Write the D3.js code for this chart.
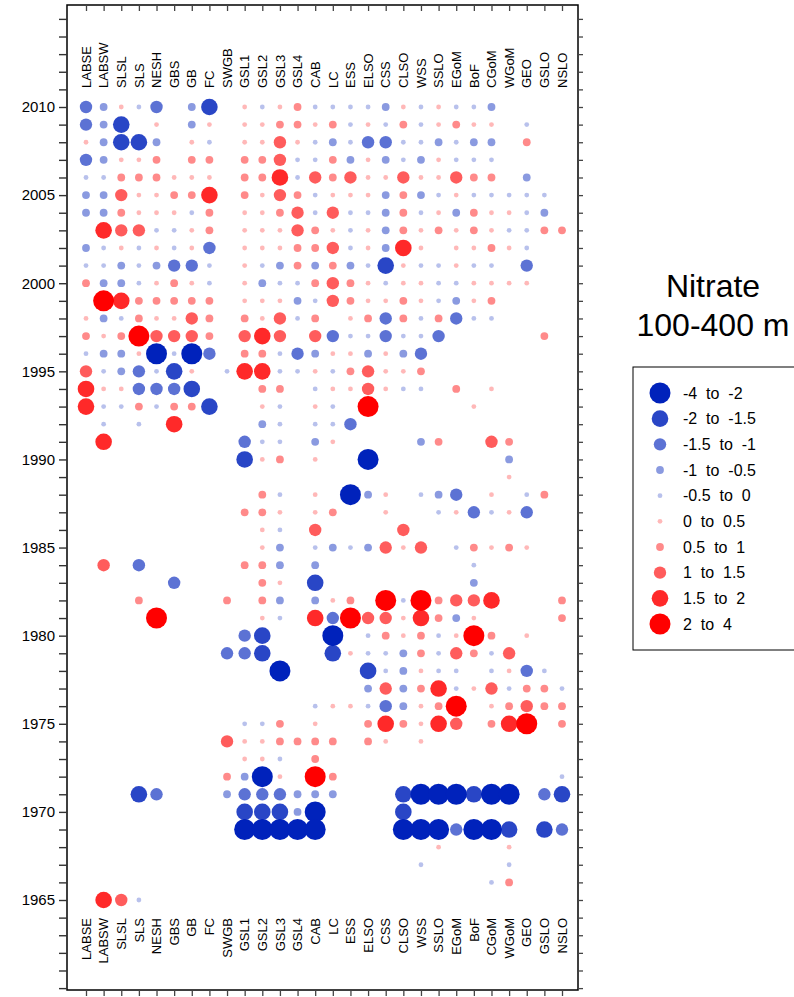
<!DOCTYPE html>
<html><head><meta charset="utf-8">
<script src="https://cdn.jsdelivr.net/npm/d3@7"></script>
<style>body{margin:0;background:#fff} text{font-family:Arial,"Liberation Sans",sans-serif;fill:#000}</style></head>
<body><svg id="c" width="794" height="997"></svg>
<script>
const regions=["LABSE","LABSW","SLSL","SLS","NESH","GBS","GB","FC","SWGB","GSL1","GSL2","GSL3","GSL4","CAB","LC","ESS","ELSO","CSS","CLSO","WSS","SSLO","EGoM","BoF","CGoM","WGoM","GEO","GSLO","NSLO"];
const yearTicks=[1965,1970,1975,1980,1985,1990,1995,2000,2005,2010];
const classBreaks=[-2,-1.5,-1,-0.5,0,0.5,1,1.5,2];
const classLabels=["-4  to  -2","-2  to  -1.5","-1.5  to  -1","-1  to  -0.5","-0.5  to  0","0  to  0.5","0.5  to  1","1  to  1.5","1.5  to  2","2  to  4"];
const classSamples=[-3,-1.75,-1.25,-0.75,-0.25,0.25,0.75,1.25,1.75,3];

const LABSE=[[2010,-1.25],[2009,-1.25],[2008,0.25],[2007,-1.25],[2006,-0.25],[2005,-0.75],[2004,-0.75],[2002,-0.75],[2001,-0.25],[2000,0.75],[1998,0.25],[1997,0.75],[1996,-0.25],[1995,1.25],[1994,1.75],[1993,1.75]];
const LABSW=[[2010,-0.75],[2009,-0.75],[2008,-0.75],[2007,-0.75],[2006,-0.25],[2005,-0.75],[2004,-0.75],[2003,1.75],[2002,-0.25],[2001,-0.25],[2000,-0.75],[1999,3],[1998,-0.75],[1997,0.25],[1996,-0.75],[1995,-0.25],[1994,0.25],[1993,-0.25],[1992,-0.25],[1991,1.75],[1984,1.25],[1965,1.75]];
const SLSL=[[2010,0.25],[2009,-1.75],[2008,-1.75],[2007,0.25],[2006,0.75],[2005,1.25],[2004,0.75],[2003,1.25],[2002,0.25],[2001,-0.75],[2000,-0.75],[1999,1.75],[1998,-0.25],[1997,0.75],[1996,-0.75],[1995,-0.75],[1994,0.25],[1993,-0.25],[1965,1.25]];
const SLS=[[2010,-0.25],[2008,-1.75],[2007,0.25],[2006,0.75],[2005,0.25],[2004,0.25],[2003,1.25],[2002,-0.25],[2001,-0.25],[2000,-0.25],[1999,0.75],[1998,0.75],[1997,3],[1996,0.25],[1995,-1.25],[1994,-1.25],[1993,0.75],[1992,-0.25],[1984,-1.25],[1982,0.75],[1971,-1.75],[1965,-0.25]];
const NESH=[[2010,-1.25],[2009,0.25],[2008,-0.75],[2007,0.75],[2006,0.75],[2005,0.25],[2004,0.25],[2003,-0.25],[2002,0.25],[2001,-0.75],[2000,0.25],[1999,0.75],[1998,0.25],[1997,1.25],[1996,-3],[1995,-0.25],[1994,-1.25],[1993,-0.25],[1981,3],[1971,-1.25]];
const GBS=[[2006,0.25],[2005,0.75],[2004,0.25],[2003,-0.25],[2002,-0.25],[2001,-1.25],[2000,0.75],[1999,0.75],[1998,0.25],[1997,1.25],[1996,-0.25],[1995,-1.75],[1994,-1.25],[1993,0.75],[1992,1.75],[1983,-1.25]];
const GB=[[2010,-0.75],[2009,-0.75],[2008,0.25],[2007,0.75],[2006,0.25],[2005,0.75],[2004,-0.25],[2003,0.25],[2002,0.25],[2001,-1.25],[2000,0.25],[1999,0.75],[1998,1.25],[1997,1.25],[1996,-3],[1995,0.25],[1994,-1.75],[1993,0.75]];
const FC=[[2010,-1.75],[2009,0.25],[2008,-0.25],[2007,0.75],[2006,0.25],[2005,1.75],[2004,0.75],[2003,0.75],[2002,-1.25],[2001,-0.25],[2000,-0.25],[1999,0.75],[1998,0.75],[1997,0.75],[1996,-1.25],[1993,-1.75]];
const SWGB=[[1995,-0.25],[1982,0.75],[1979,-1.25],[1974,1.25],[1972,0.75],[1971,-0.75]];
const GSL1=[[2010,0.25],[2009,0.25],[2008,0.25],[2007,0.75],[2006,0.75],[2005,0.75],[2004,0.25],[2003,0.25],[2002,0.25],[2001,0.25],[2000,0.25],[1999,0.25],[1998,0.75],[1997,1.25],[1996,0.75],[1995,1.75],[1991,-1.25],[1990,-1.75],[1987,0.75],[1984,0.75],[1980,-1.25],[1979,-1.25],[1975,-0.25],[1974,0.25],[1973,0.25],[1972,-0.75],[1971,-1.25],[1970,-1.75],[1969,-3]];
const GSL2=[[2010,-0.25],[2009,0.25],[2008,0.25],[2007,0.75],[2006,0.75],[2005,0.25],[2004,0.25],[2003,0.25],[2002,0.25],[2001,-0.25],[2000,-0.75],[1999,0.25],[1998,0.25],[1997,1.75],[1996,0.75],[1995,1.75],[1994,0.75],[1993,0.25],[1992,-0.75],[1991,-0.25],[1990,0.25],[1988,0.75],[1987,0.75],[1986,0.25],[1985,0.25],[1984,0.75],[1983,0.75],[1982,0.75],[1981,0.25],[1980,-1.75],[1979,-1.75],[1975,-0.25],[1974,0.25],[1973,0.25],[1972,-3],[1971,-1.25],[1970,-1.75],[1969,-3]];
const GSL3=[[2010,0.25],[2009,0.75],[2008,1.25],[2007,1.25],[2006,1.75],[2005,1.25],[2004,0.75],[2003,0.25],[2002,0.25],[2001,-0.75],[2000,-0.25],[1999,0.25],[1998,1.25],[1997,1.25],[1996,-0.25],[1995,-0.25],[1994,0.75],[1993,-0.25],[1992,-0.25],[1991,-0.25],[1990,0.75],[1988,-0.25],[1987,0.25],[1986,-0.25],[1985,-0.75],[1984,-0.75],[1983,0.25],[1982,-0.75],[1981,-0.25],[1978,-3],[1975,0.75],[1974,0.75],[1973,-0.25],[1972,0.25],[1971,-1.25],[1970,-1.75],[1969,-3]];
const GSL4=[[2010,0.75],[2009,0.75],[2008,0.25],[2007,-0.25],[2006,-0.25],[2005,0.75],[2004,1.25],[2003,1.25],[2002,0.75],[2001,0.75],[2000,-0.25],[1999,-0.75],[1998,-0.25],[1996,-1.25],[1995,-0.25],[1974,0.75],[1971,-0.75],[1970,-0.75],[1969,-3]];
const CAB=[[2010,-0.25],[2009,0.25],[2008,-0.25],[2007,-0.25],[2006,1.25],[2005,-0.25],[2004,-0.25],[2003,0.75],[2002,0.75],[2001,-0.75],[2000,0.75],[1999,-0.25],[1998,0.75],[1997,1.25],[1996,-0.75],[1995,0.25],[1994,-0.25],[1993,0.25],[1992,-0.25],[1991,-0.75],[1990,0.25],[1988,0.25],[1987,0.25],[1986,1.25],[1985,-0.25],[1984,-0.75],[1983,-1.75],[1982,-0.75],[1981,1.75],[1976,-0.25],[1975,0.25],[1974,0.75],[1973,0.75],[1972,3],[1971,-0.75],[1970,-3],[1969,-3]];
const LC=[[2010,-0.25],[2009,0.75],[2008,-0.75],[2007,0.75],[2006,0.75],[2005,0.25],[2004,1.25],[2003,0.25],[2002,1.25],[2001,0.75],[2000,1.25],[1999,1.25],[1997,-1.25],[1996,0.25],[1995,-0.25],[1994,0.25],[1993,-0.25],[1992,-0.25],[1991,0.25],[1987,0.75],[1985,-0.75],[1982,0.25],[1981,-1.25],[1980,-3],[1979,-1.75],[1976,0.25],[1974,0.75],[1972,0.75],[1971,-0.75]];
const ESS=[[2010,-0.25],[2009,-0.25],[2008,-0.25],[2007,-0.75],[2006,1.25],[2005,0.25],[2004,-0.25],[2003,-0.25],[2002,-0.25],[2001,-0.75],[2000,0.75],[1999,0.75],[1998,0.25],[1997,-0.25],[1996,0.25],[1995,0.75],[1994,0.25],[1992,-1.25],[1988,-3],[1985,-0.25],[1982,0.75],[1981,3],[1979,0.25],[1976,0.25]];
const ELSO=[[2010,-0.25],[2009,0.25],[2008,-1.25],[2007,0.25],[2006,0.25],[2005,0.25],[2004,-0.25],[2003,0.25],[2002,0.25],[2001,-0.25],[2000,0.25],[1999,0.25],[1998,0.75],[1997,-0.25],[1996,-0.75],[1995,1.25],[1994,1.25],[1993,3],[1990,-3],[1988,-0.75],[1985,-0.75],[1981,1.25],[1980,-0.25],[1979,-0.25],[1978,-1.75],[1977,-0.75],[1976,-0.25],[1975,0.75],[1974,0.75]];
const CSS=[[2010,-0.75],[2009,-0.25],[2008,-1.25],[2007,-0.75],[2006,0.25],[2005,-0.75],[2004,-0.75],[2003,-0.75],[2002,-0.75],[2001,-1.75],[2000,-0.25],[1999,0.25],[1998,-1.25],[1997,-1.25],[1996,0.25],[1995,0.25],[1994,0.25],[1988,0.25],[1987,0.25],[1985,1.25],[1982,3],[1981,1.25],[1980,0.75],[1979,-0.25],[1978,-0.25],[1977,1.25],[1976,-1.25],[1975,1.75],[1974,0.25]];
const CLSO=[[2010,0.25],[2009,0.75],[2008,-0.25],[2007,-0.25],[2006,1.25],[2005,0.75],[2004,0.75],[2003,0.75],[2002,1.75],[2001,0.25],[2000,0.25],[1999,0.75],[1998,0.75],[1997,-0.25],[1996,-0.75],[1995,0.25],[1994,-0.25],[1986,1.25],[1985,0.25],[1982,-0.25],[1981,0.25],[1980,0.25],[1979,-0.75],[1978,-0.75],[1977,-0.75],[1976,-0.75],[1975,0.75],[1971,-1.75],[1970,-1.75],[1969,-3]];
const WSS=[[2010,-0.25],[2009,-0.25],[2008,-0.25],[2007,-0.75],[2006,0.25],[2005,-0.75],[2004,-0.25],[2003,0.25],[2002,0.25],[2001,-0.25],[2000,0.25],[1999,0.25],[1998,-0.25],[1997,-0.25],[1996,-1.25],[1995,0.75],[1994,-0.25],[1991,-0.75],[1988,-0.25],[1985,1.25],[1982,3],[1981,1.75],[1980,0.75],[1979,0.75],[1978,0.25],[1977,0.75],[1976,0.25],[1975,0.25],[1974,0.25],[1971,-3],[1969,-3],[1967,-0.25]];
const SSLO=[[2010,0.25],[2009,0.25],[2008,-0.75],[2007,0.25],[2006,0.25],[2005,-0.25],[2004,0.25],[2003,0.75],[2001,-0.25],[2000,-0.25],[1999,-0.25],[1998,0.75],[1997,-1.25],[1991,0.75],[1988,-0.75],[1987,-0.25],[1982,0.75],[1981,0.75],[1980,-0.25],[1979,-0.25],[1978,-0.25],[1977,1.75],[1976,0.75],[1975,1.75],[1971,-3],[1969,-3],[1968,0.25]];
const EGoM=[[2010,-0.25],[2009,0.75],[2008,-0.25],[2007,-0.25],[2006,1.25],[2005,0.25],[2004,-0.75],[2003,0.25],[2002,0.25],[2001,0.25],[2000,-0.25],[1999,-0.75],[1998,-1.25],[1994,0.75],[1988,-1.25],[1987,0.25],[1985,-0.25],[1982,1.25],[1981,-0.75],[1980,0.25],[1979,1.25],[1978,-0.25],[1977,-0.25],[1976,3],[1975,1.25],[1971,-3],[1969,-1.25]];
const BoF=[[2010,-0.25],[2009,0.25],[2008,-0.75],[2007,-0.25],[2006,0.75],[2005,-0.25],[2004,0.75],[2003,0.75],[2002,0.25],[2001,-0.25],[2000,0.25],[1999,0.25],[1998,-0.25],[1993,0.25],[1987,-1.25],[1985,0.75],[1984,-0.25],[1983,-0.75],[1982,1.25],[1981,0.25],[1980,3],[1979,0.75],[1977,0.25],[1971,-1.75],[1969,-3]];
const CGoM=[[2010,-0.75],[2009,0.25],[2008,-0.75],[2007,-0.25],[2006,0.75],[2005,-0.25],[2004,0.25],[2003,0.25],[2002,0.75],[2001,-0.25],[2000,0.25],[1999,0.75],[1998,-0.25],[1994,0.25],[1991,1.25],[1988,0.25],[1987,-0.25],[1985,0.25],[1982,1.75],[1980,0.75],[1979,-0.25],[1978,-0.25],[1977,1.25],[1976,0.25],[1975,0.75],[1971,-3],[1969,-3],[1966,-0.25]];
const WGoM=[[2005,-0.25],[2004,0.25],[2003,-0.25],[2002,0.25],[2000,0.25],[1991,0.75],[1990,-0.75],[1989,0.25],[1987,0.25],[1985,0.75],[1979,1.25],[1978,0.25],[1977,-0.25],[1976,0.75],[1975,1.75],[1971,-3],[1969,-1.75],[1968,0.25],[1967,-0.25],[1966,0.75]];
const GEO=[[2009,-0.25],[2008,0.75],[2006,-0.75],[2005,-0.25],[2004,-0.25],[2003,-0.25],[2002,-0.25],[2001,-1.25],[2000,0.25],[1988,-0.25],[1987,-1.25],[1985,0.25],[1980,0.25],[1978,-1.25],[1977,0.75],[1976,1.25],[1975,3]];
const GSLO=[[2005,-0.25],[2004,-0.75],[2003,0.75],[1997,0.75],[1988,0.75],[1978,-0.25],[1977,0.75],[1976,0.75],[1971,-1.25],[1969,-1.75]];
const NSLO=[[2003,0.75],[1982,0.75],[1981,0.75],[1977,-0.25],[1976,0.75],[1975,0.75],[1972,-0.25],[1971,-1.75],[1969,-1.25]];

const series=[LABSE,LABSW,SLSL,SLS,NESH,GBS,GB,FC,SWGB,GSL1,GSL2,GSL3,GSL4,CAB,LC,ESS,ELSO,CSS,CLSO,WSS,SSLO,EGoM,BoF,CGoM,WGoM,GEO,GSLO,NSLO];

const svg=d3.select("#c");
const L=67,R=578,T=5,B=990;
const x=d3.scalePoint().domain(regions).range([86,562]);
const y=d3.scaleLinear().domain([1965,2010]).range([900,107]);
const cls=d3.scaleThreshold().domain(classBreaks).range(d3.range(10));
const rScale=d3.scaleOrdinal().domain(d3.range(10)).range([10.5,8.3,6.2,3.9,2.4,2.4,3.9,6.2,8.3,10.5]);
const opScale=d3.scaleOrdinal().domain(d3.range(10)).range([1,0.84,0.64,0.46,0.28,0.28,0.46,0.64,0.84,1]);
const colScale=d3.scaleOrdinal().domain(d3.range(10)).range(d3.range(10).map(i=>i<5?"#0022bb":"#ff0000"));

// points
const pts=[];
series.forEach((s,i)=>s.forEach(([yr,v])=>pts.push({reg:regions[i],yr,v})));
svg.append("g").selectAll("circle").data(pts).join("circle")
  .attr("cx",d=>x(d.reg)).attr("cy",d=>y(d.yr))
  .attr("r",d=>rScale(cls(d.v)))
  .attr("fill",d=>colScale(cls(d.v)))
  .attr("fill-opacity",d=>opScale(cls(d.v)));

// frame
svg.append("rect").attr("x",L).attr("y",T).attr("width",R-L).attr("height",B-T)
  .attr("fill","none").attr("stroke","#000").attr("stroke-width",1.5);

// year ticks (every year) left & right
const allYears=d3.range(1960,2016);
const yl=svg.append("g").attr("transform",`translate(${L},0)`)
  .call(d3.axisLeft(y).tickValues(allYears).tickSize(8).tickFormat(""));
yl.select(".domain").remove();
yl.selectAll("line").attr("stroke","#333").attr("stroke-width",1.4);
const ylab=svg.append("g").attr("transform",`translate(${L},0)`)
  .call(d3.axisLeft(y).tickValues(yearTicks).tickSize(0).tickPadding(12).tickFormat(d3.format("d")));
ylab.select(".domain").remove();
ylab.selectAll("text").style("font-size","15px").attr("font-family","Arial, Liberation Sans, sans-serif");
const yr=svg.append("g").attr("transform",`translate(${R},0)`)
  .call(d3.axisRight(y).tickValues(allYears).tickSize(5).tickFormat(""));
yr.select(".domain").remove();
yr.selectAll("line").attr("stroke","#444").attr("stroke-width",1.3);

// column ticks top & bottom
const xb=svg.append("g").attr("transform",`translate(0,${B})`)
  .call(d3.axisBottom(x).tickSize(6).tickFormat(""));
xb.select(".domain").remove();
xb.selectAll("line").attr("stroke","#444").attr("stroke-width",1.3);
const xt=svg.append("g").attr("transform",`translate(0,${T})`)
  .call(d3.axisBottom(x).tickSize(6).tickFormat(""));
xt.select(".domain").remove();
xt.selectAll("line").attr("stroke","#444").attr("stroke-width",1.3);

// column labels
svg.append("g").selectAll("text").data(regions).join("text")
  .attr("transform",d=>`translate(${x(d)},88) rotate(-90)`)
  .attr("dy","0.36em").attr("text-anchor","start").style("font-size","13px").text(d=>d);
svg.append("g").selectAll("text").data(regions).join("text")
  .attr("transform",d=>`translate(${x(d)},918) rotate(-90)`)
  .attr("dy","0.36em").attr("text-anchor","end").style("font-size","13px").text(d=>d);

// title
svg.append("text").attr("x",713).attr("y",297).attr("text-anchor","middle").style("font-size","32px").text("Nitrate");
svg.append("text").attr("x",713).attr("y",336).attr("text-anchor","middle").style("font-size","32px").text("100-400 m");

// legend
const lg=svg.append("g");
lg.append("rect").attr("x",633).attr("y",367).attr("width",170).attr("height",283).attr("fill","#fff").attr("stroke","#000").attr("stroke-width",1);
const ly=d3.scalePoint().domain(d3.range(10)).range([393,624]);
lg.selectAll("circle").data(d3.range(10)).join("circle")
  .attr("cx",660).attr("cy",i=>ly(i))
  .attr("r",i=>rScale(cls(classSamples[i])))
  .attr("fill",i=>colScale(cls(classSamples[i])))
  .attr("fill-opacity",i=>opScale(cls(classSamples[i])));
lg.selectAll("text").data(d3.range(10)).join("text")
  .attr("x",683).attr("y",i=>ly(i)).attr("dy","0.35em")
  .style("font-size","16px").style("white-space","pre").text(i=>classLabels[i]);
</script></body></html>
